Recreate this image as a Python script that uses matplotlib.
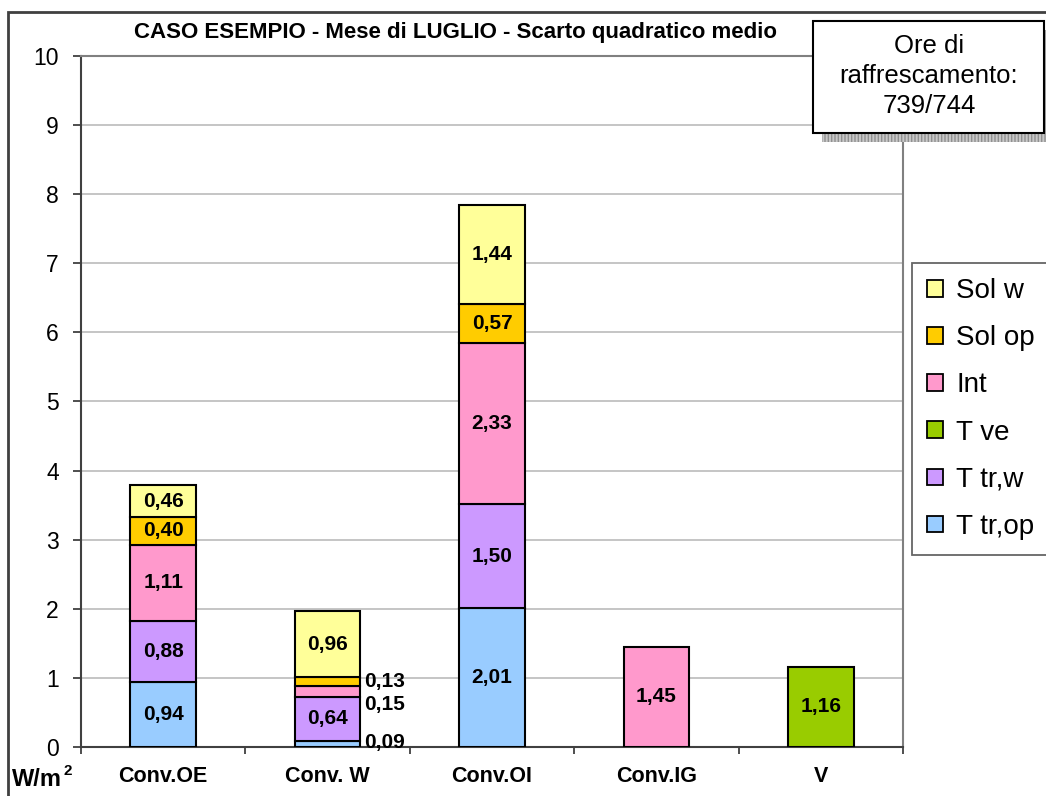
import numpy as np
import matplotlib
matplotlib.use("Agg")
import matplotlib.pyplot as plt
from matplotlib.patches import Rectangle

plt.rcParams['font.family'] = ['Liberation Sans', 'DejaVu Sans']

# --- dati ---
categorie = ['Conv.OE', 'Conv. W', 'Conv.OI', 'Conv.IG', 'V']
serie = ['T tr,op', 'T tr,w', 'T ve', 'Int', 'Sol op', 'Sol w']
t_tr_op = [0.94, 0.09, 2.01, 0.00, 0.00]
t_tr_w = [0.88, 0.64, 1.50, 0.00, 0.00]
t_ve = [0.00, 0.00, 0.00, 0.00, 1.16]
int_ = [1.11, 0.15, 2.33, 1.45, 0.00]
sol_op = [0.40, 0.13, 0.57, 0.00, 0.00]
sol_w = [0.46, 0.96, 1.44, 0.00, 0.00]
valori = [t_tr_op, t_tr_w, t_ve, int_, sol_op, sol_w]
colori = ['#99CCFF', '#CC99FF', '#99CC00', '#FF99CC', '#FFCC00', '#FFFF99']

titolo = 'CASO ESEMPIO - Mese di LUGLIO - Scarto quadratico medio'
nota = 'Ore di\nraffrescamento:\n739/744'

# etichette piccole spostate a destra della barra (serie, categoria) -> spostamento in W/m2
fuori = {(4, 1): 0.0, (3, 1): -0.19, (0, 1): 0.02}

W, H = 1046, 796
fig = plt.figure(figsize=(W / 100, H / 100), dpi=100)
fig.patch.set_facecolor('white')


def fx(px):
    return px / W


def fy(py):
    return 1 - py / H


# bordo esterno del grafico
fig.patches.append(Rectangle((fx(8), fy(1000)), fx(1200), fy(12) - fy(1000),
                             transform=fig.transFigure, fill=False,
                             edgecolor='#404040', linewidth=2, zorder=0))

ax = fig.add_axes([fx(81), fy(747), fx(903) - fx(81), fy(56) - fy(747)])
x = np.arange(len(categorie))
larg = 0.4

base = np.zeros(len(categorie))
handles = []
for i, (nome, vals, col) in enumerate(zip(serie, valori, colori)):
    vals = np.array(vals)
    for j, v in enumerate(vals):
        if v <= 0:
            continue
        ax.bar(x[j], v, larg, bottom=base[j], color=col, edgecolor='black',
               linewidth=1.5, zorder=3)
        testo = f'{v:.2f}'.replace('.', ',')
        if (i, j) in fuori:
            ax.text(x[j] + larg / 2 + 0.02, base[j] + v / 2 + fuori[(i, j)], testo,
                    ha='left', va='center', fontsize=15, fontweight='bold', zorder=5)
        else:
            ax.text(x[j], base[j] + v / 2, testo, ha='center', va='center',
                    fontsize=15, fontweight='bold', zorder=5)
    base += vals
    handles.append(Rectangle((0, 0), 1, 1, facecolor=col, edgecolor='black', linewidth=1.3))

ax.set_xlim(-0.5, len(categorie) - 0.5)
ax.set_ylim(0, 10)
ax.set_yticks(range(0, 11))
ax.grid(axis='y', color='#C0C0C0', linewidth=1.3, zorder=0)
ax.set_axisbelow(True)

ax.set_xticks(x)
ax.set_xticklabels(categorie, fontsize=15.5, fontweight='bold')
ax.set_xticks(np.arange(-0.5, len(categorie)), minor=True)
ax.tick_params(axis='x', which='major', length=0, pad=14)
ax.tick_params(axis='x', which='minor', length=5, width=1.3, color='#404040', direction='out')
ax.tick_params(axis='y', length=6, width=1.3, color='#404040', direction='out',
               labelsize=16.5, pad=10)

for s in ['left', 'bottom']:
    ax.spines[s].set_color('#404040')
    ax.spines[s].set_linewidth(1.5)
for s in ['top', 'right']:
    ax.spines[s].set_color('#808080')
    ax.spines[s].set_linewidth(1.5)

fig.text(fx(455), fy(38), titolo, ha='center', va='baseline', fontsize=16, fontweight='bold')
# unità di misura con esponente
fig.text(fx(12), fy(786), 'W/m', ha='left', va='baseline', fontsize=17, fontweight='bold')
fig.text(fx(64), fy(775), '2', ha='left', va='baseline', fontsize=11, fontweight='bold')

# riquadro con ombra
ombra = Rectangle((fx(822), fy(142)), fx(240), fy(30) - fy(142), transform=fig.transFigure,
                  facecolor='#C8C8C8', edgecolor='#909090', hatch='|||||', linewidth=0, zorder=4)
fig.patches.append(ombra)
box = Rectangle((fx(813), fy(133)), fx(1044) - fx(813), fy(21) - fy(133), transform=fig.transFigure,
                facecolor='white', edgecolor='black', linewidth=1.5, zorder=5)
fig.patches.append(box)
fig.text(fx(929), fy(76), nota, ha='center', va='center', fontsize=18.5, linespacing=1.3, zorder=6)

leg = fig.legend(handles[::-1], serie[::-1], loc='upper left',
                 bbox_to_anchor=(fx(912), fy(263)), borderaxespad=0, frameon=True,
                 fancybox=False, edgecolor='#404040', fontsize=20,
                 handlelength=0.55, handleheight=0.55, handletextpad=0.5,
                 labelspacing=0.76, borderpad=0.55)
leg.get_frame().set_linewidth(1.3)

fig.savefig('out.png', dpi=100)
